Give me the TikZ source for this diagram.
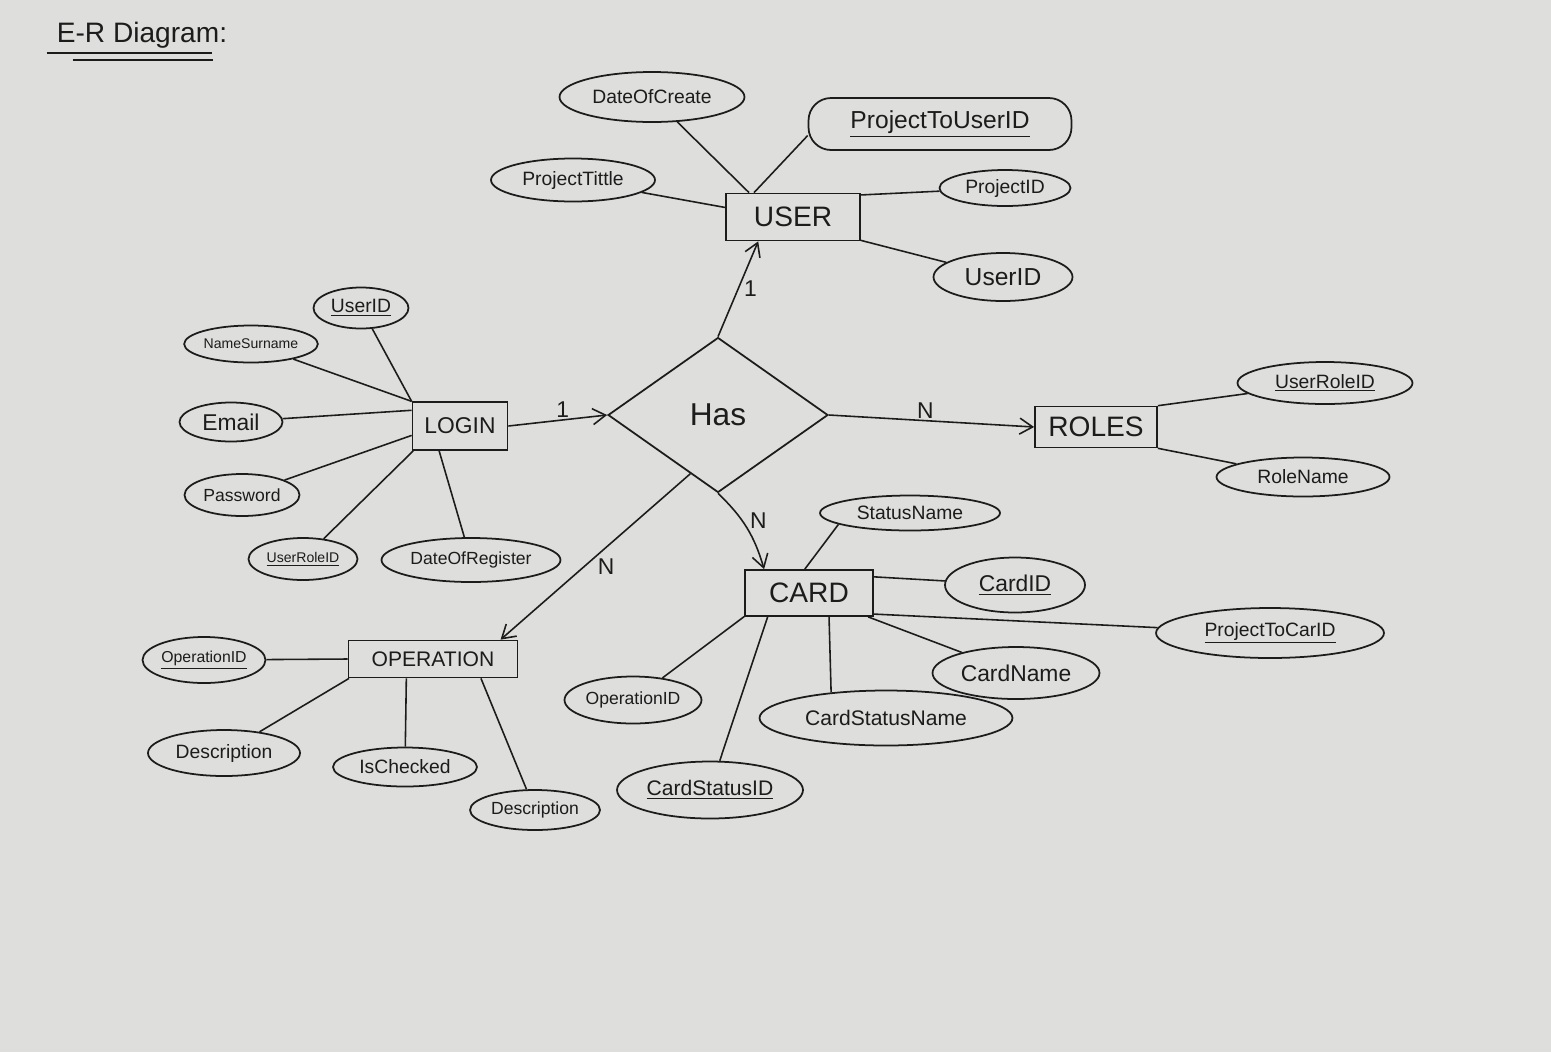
\documentclass[tikz,border=0pt]{standalone}
\usepackage{fontspec}
\setmainfont{Liberation Sans}
\usetikzlibrary{arrows.meta,calc,shapes.geometric}
\definecolor{PaperClr}{RGB}{222,222,220}
\definecolor{InkClr}{RGB}{28,28,28}

\newcommand{\fsz}[1]{\fontsize{#1}{#1}\selectfont}

\tikzset{
  entity/.style={draw=InkClr,line width=1pt,rectangle,inner sep=2pt,text=InkClr,font=\fsz{16}},
  attr/.style={draw=InkClr,line width=1pt,ellipse,inner sep=0pt,text=InkClr,font=\fsz{11}},
  rel/.style={draw=InkClr,line width=1pt,diamond,inner sep=0pt,text=InkClr,font=\fsz{18}},
  link/.style={InkClr,line width=0.9pt},
  relarrow/.style={InkClr,line width=0.9pt,-{Straight Barb[length=2.6mm,width=3.2mm]}},
  mult/.style={text=InkClr,font=\fsz{13},inner sep=1pt}
}

\begin{document}
\begin{tikzpicture}[x=0.02cm,y=-0.02cm]
\fill[PaperClr] (0,0) rectangle (1551,1052);
\useasboundingbox (0,0) rectangle (1551,1052);

% title
\node[text=InkClr,font=\fsz{16}] (title) at (142,35) {E-R Diagram:};
\draw[link,line width=1.3pt] ([shift={(-4,-1)}]title.south west) -- ++(165,0);
\draw[link,line width=1.3pt] ([shift={(22,6)}]title.south west) -- ++(140,0);

% entities and relationship
\node[entity,minimum width=2.68cm,minimum height=0.94cm] (USER) at (793,217) {USER};
\node[entity,minimum width=1.9cm,minimum height=0.96cm,font=\fsz{13}] (LOGIN) at (460,426) {LOGIN};
\node[entity,minimum width=2.44cm,minimum height=0.82cm] (ROLES) at (1096,427) {ROLES};
\node[entity,minimum width=2.56cm,minimum height=0.92cm] (CARD) at (809,593) {CARD};
\node[entity,minimum width=3.38cm,minimum height=0.74cm,font=\fsz{12}] (OPERATION) at (433,659) {OPERATION};
\node[rel,minimum width=4.4cm,minimum height=3.1cm] (Has) at (718,415) {Has};

% USER attributes
\node[attr,minimum width=3.7cm,minimum height=1.0cm] (doc) at (652,97) {DateOfCreate};
\node[attr,rectangle,rounded corners=0.45cm,minimum width=5.26cm,minimum height=1.04cm,font=\fsz{14}] (ptu) at (940,124) {\underline{ProjectToUserID}};
\node[attr,minimum width=3.28cm,minimum height=0.86cm] (ptt) at (573,180) {ProjectTittle};
\node[attr,minimum width=2.62cm,minimum height=0.72cm] (pid) at (1005,188) {ProjectID};
\node[attr,minimum width=2.78cm,minimum height=0.96cm,font=\fsz{14}] (uid) at (1003,277) {UserID};

% LOGIN attributes
\node[attr,minimum width=1.9cm,minimum height=0.82cm] (luid) at (361,308) {\underline{UserID}};
\node[attr,minimum width=2.58cm,minimum height=0.74cm,font=\fsz{8}] (lname) at (251,344) {NameSurname};
\node[attr,minimum width=2.06cm,minimum height=0.78cm,font=\fsz{13}] (lmail) at (231,422) {Email};
\node[attr,minimum width=2.3cm,minimum height=0.84cm,font=\fsz{10}] (lpass) at (242,495) {Password};
\node[attr,minimum width=2.18cm,minimum height=0.84cm,font=\fsz{8}] (lrole) at (303,559) {\underline{UserRoleID}};
\node[attr,minimum width=3.58cm,minimum height=0.88cm,font=\fsz{10}] (lreg) at (471,560) {DateOfRegister};

% ROLES attributes
\node[attr,minimum width=3.5cm,minimum height=0.84cm] (rid) at (1325,383) {\underline{UserRoleID}};
\node[attr,minimum width=3.46cm,minimum height=0.78cm] (rname) at (1303,477) {RoleName};

% CARD attributes
\node[attr,minimum width=3.6cm,minimum height=0.7cm] (csn) at (910,513) {StatusName};
\node[attr,minimum width=2.8cm,minimum height=1.1cm,font=\fsz{13}] (cid) at (1015,585) {\underline{CardID}};
\node[attr,minimum width=4.56cm,minimum height=1.0cm] (cptc) at (1270,633) {\underline{ProjectToCarID}};
\node[attr,minimum width=3.34cm,minimum height=1.04cm,font=\fsz{13}] (cname) at (1016,673) {CardName};
\node[attr,minimum width=5.06cm,minimum height=1.1cm,font=\fsz{12}] (cstn) at (886,718) {CardStatusName};
\node[attr,minimum width=3.72cm,minimum height=1.14cm,font=\fsz{12}] (cstid) at (710,790) {\underline{CardStatusID}};
\node[attr,minimum width=2.74cm,minimum height=0.94cm,font=\fsz{10}] (copid) at (633,700) {OperationID};

% OPERATION attributes
\node[attr,minimum width=2.46cm,minimum height=0.92cm,font=\fsz{9}] (oid) at (204,660) {\underline{OperationID}};
\node[attr,minimum width=3.04cm,minimum height=0.92cm] (odesc) at (224,753) {Description};
\node[attr,minimum width=2.88cm,minimum height=0.78cm] (ochk) at (405,767) {IsChecked};
\node[attr,minimum width=2.6cm,minimum height=0.8cm,font=\fsz{10}] (odesc2) at (535,810) {Description};

% attribute links
\draw[link] (USER.151) -- (doc);
\draw[link] (USER.148) -- (ptu.185);
\draw[link] (USER.172) -- (ptt);
\draw[link] (USER.18) -- (pid);
\draw[link] (USER.-19) -- (uid);

\draw[link] (LOGIN.153) -- (luid);
\draw[link] (LOGIN.153) -- (lname);
\draw[link] (LOGIN.162) -- (lmail);
\draw[link] (LOGIN.191) -- (lpass);
\draw[link] (LOGIN.208) -- (lrole);
\draw[link] (LOGIN.230) -- (lreg);

\draw[link] (ROLES.19) -- (rid);
\draw[link] (ROLES.-19) -- (rname);

\draw[link] (CARD.100) -- (csn.189);
\draw[link] (CARD.14) -- (cid);
\draw[link] (CARD.-18) -- (cptc);
\draw[link] (CARD.-22) -- (cname);
\draw[link] (CARD.-50) -- (cstn.155);
\draw[link] (CARD.210) -- (cstid);
\draw[link] (CARD.200) -- (copid);

\draw[link] (OPERATION.west) -- (oid);
\draw[link] (OPERATION.193) -- (odesc);
\draw[link] (OPERATION.216) -- (ochk);
\draw[link] (OPERATION.-22) -- (odesc2);

% relationship arrows
\draw[relarrow] (LOGIN.east) -- node[mult,above,pos=.55] {1} (Has.west);
\draw[relarrow] (Has.north) -- node[mult,right=2pt] {1} (USER.215);
\draw[relarrow] (Has.east) -- node[mult,above,pos=.47] {N} (ROLES.west);
\draw[relarrow] (Has.south) to[bend left=15] node[mult,right=3pt,pos=.4] {N} (CARD.152);
\draw[relarrow] ($(Has.west)!.75!(Has.south)$) -- node[mult,below right=0pt,pos=.5] {N} (OPERATION.16);

\end{tikzpicture}
\end{document}
